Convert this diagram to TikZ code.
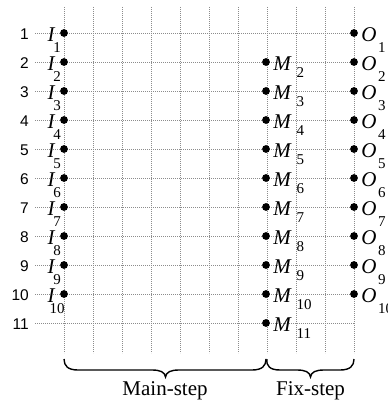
\documentclass[tikz,border=0pt]{standalone}
\usepackage{fontspec}
\setmainfont{Liberation Serif}
\newfontfamily\numfont{Liberation Sans}
\begin{document}
\begin{tikzpicture}[x=1pt,y=-1pt,
  gridline/.style={draw=gray!90, line width=0.7pt, dash pattern=on 0.7pt off 1.3pt},
  dot/.style={circle, fill=black, draw=none, inner sep=0pt, minimum size=7.8pt},
  rownum/.style={font=\numfont\fontsize{15.5}{15.5}\selectfont, anchor=east, inner sep=0pt},
  lab/.style={font=\itshape\fontsize{21}{21}\selectfont, inner sep=0pt},
  sub/.style={font=\fontsize{15}{15}\selectfont, inner sep=0pt},
  steptext/.style={font=\fontsize{21}{21}\selectfont, inner sep=0pt, anchor=base},
  bracepath/.style={draw=black, line width=1.4pt}
]
\useasboundingbox (0,0) rectangle (387,403);
% vertical grid lines
\foreach \k in {0,...,10}{
  \pgfmathsetmacro\xx{64+29*\k}
  \coordinate (t\k) at (\xx,7);
  \coordinate (b\k) at (\xx,353);
  \draw[gridline] (t\k) -- (b\k);
}
% row numbers and horizontal grid lines
\foreach \r in {1,...,11}{
  \pgfmathsetmacro\yy{33+29*(\r-1)}
  \node[rownum] (n\r) at (29,\yy+1) {\r};
  \coordinate (s\r) at (35,\yy);
  \coordinate (e\r) at (354,\yy);
  \draw[gridline] (s\r) -- (e\r);
}
% I column
\foreach \r in {1,...,10}{
  \pgfmathsetmacro\yy{33+29*(\r-1)}
  \node[dot] (I\r) at (64,\yy) {};
  \node[lab] (lI\r) at (51,\yy+2) {I};
  \node[sub] (sI\r) at (57,\yy+15) {\r};
}
% M column
\foreach \r in {2,...,11}{
  \pgfmathsetmacro\yy{33+29*(\r-1)}
  \node[dot] (M\r) at (266,\yy) {};
  \node[lab] (lM\r) at (282,\yy+1.5) {M};
  \node[sub, anchor=west] (sM\r) at (296.5,\yy+11) {\r};
}
% O column
\foreach \r in {1,...,10}{
  \pgfmathsetmacro\yy{33+29*(\r-1)}
  \node[dot] (O\r) at (354,\yy) {};
  \node[lab] (lO\r) at (369,\yy+1.5) {O};
  \node[sub, anchor=west] (sO\r) at (378,\yy+15) {\r};
}
% braces
\draw[bracepath] (b0) ++(0,6) .. controls (64,366) and (68,370) .. (78,370) -- (152,370)
  .. controls (160,370) and (165,372) .. (165.5,377)
  .. controls (166,372) and (171,370) .. (179,370) -- (252,370)
  .. controls (262,370) and (266,366) .. (266,359);
\draw[bracepath] (b7) ++(0,6) .. controls (266,366) and (270,370) .. (280,370) -- (297,370)
  .. controls (305,370) and (310,372) .. (310.5,377)
  .. controls (311,372) and (316,370) .. (324,370) -- (340,370)
  .. controls (350,370) and (354,366) .. (354,359);
\node[steptext] (mainstep) at (165,395) {Main-step};
\node[steptext] (fixstep) at (310.5,395) {Fix-step};
\end{tikzpicture}
\end{document}
